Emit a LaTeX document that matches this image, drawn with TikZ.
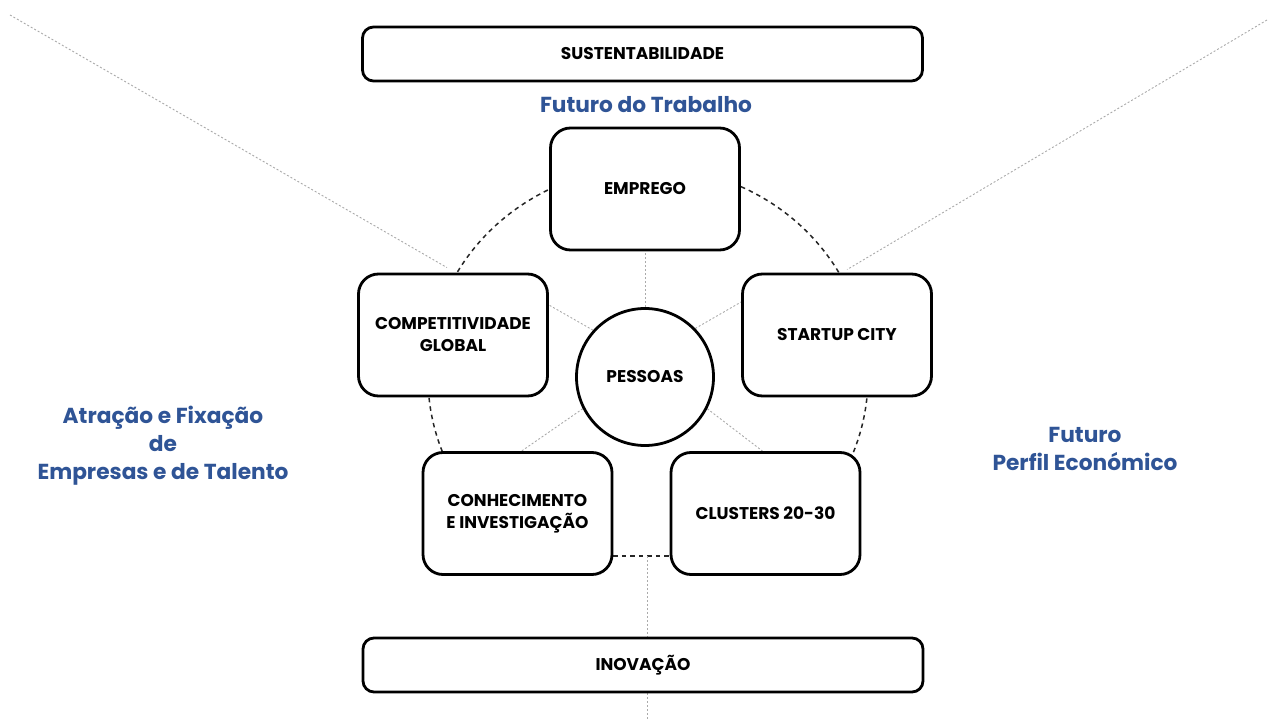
\documentclass[tikz,border=0pt]{standalone}
\usepackage{fontspec}
\setmainfont{Poppins}
\newfontfamily\labfont{Poppins}
\newfontfamily\blufont{Poppins}
\usetikzlibrary{calc,backgrounds}
\definecolor{titleblue}{RGB}{47,84,150}
\definecolor{spokegray}{RGB}{170,170,170}
\tikzset{
  bar/.style={draw=black, line width=2.8pt, rounded corners=11pt, fill=white, minimum height=54pt, minimum width=560pt, font=\labfont\bfseries\fontsize{17}{20}\selectfont},
  card/.style={draw=black, line width=2.8pt, rounded corners=20pt, fill=white, minimum width=189pt, minimum height=122pt, align=center, font=\labfont\bfseries\fontsize{17}{22}\selectfont},
  hub/.style={draw=black, line width=2.8pt, circle, fill=white, minimum size=137pt, font=\labfont\bfseries\fontsize{17}{20}\selectfont},
  ring/.style={draw=black!85, line width=1.5pt, dash pattern=on 4.5pt off 4pt},
  spoke/.style={draw=spokegray, line width=0.9pt, dash pattern=on 2pt off 2pt},
  heading/.style={text=titleblue, align=center, font=\blufont\bfseries\fontsize{21.7}{28}\selectfont}
}
\begin{document}
\begin{tikzpicture}[x=1pt,y=-1pt]
\useasboundingbox (0,0) rectangle (1268,719);
% nodes
\node[bar] (sust) at (642.5,54) {SUSTENTABILIDADE};
\node[bar] (inov) at (643,665) {INOVAÇÃO};
\node[heading] (ftrab) at (646,105) {Futuro do Trabalho};
\node[heading] (atrac) at (163,446) {Atração e Fixação\\de\\Empresas e de Talento};
\node[heading] (fperf) at (1085,449) {Futuro\\Perfil Económico};
\node[card] (empr) at (645,189) {EMPREGO};
\node[card] (comp) at (453,335) {COMPETITIVIDADE\\GLOBAL};
\node[card] (start) at (837,335) {STARTUP CITY};
\node[card] (conh) at (517.5,513.5) {CONHECIMENTO\\E INVESTIGAÇÃO};
\node[card] (clus) at (765.5,513.5) {CLUSTERS 20-30};
\node[hub] (pess) at (645,377) {PESSOAS};
\coordinate (tl) at (10,15);
\coordinate (tr) at (1267,20);
\coordinate (bot) at (647,719);
\begin{pgfonlayer}{background}
  % dashed ring
  \draw[ring] (648,377) ++(150:220 and 210) arc[start angle=150,end angle=390,x radius=220,y radius=210];
  \draw[ring] ([yshift=20pt]conh.south east) -- ([yshift=20pt]clus.south west);
  \coordinate (bm) at ([yshift=20pt]conh.south east);
  % spokes
  \draw[spoke] (pess.north) -- (empr.south);
  \draw[spoke] (pess.138) -- ([yshift=30pt]comp.east);
  \draw[spoke] (pess.44) -- ([yshift=33pt]start.west);
  \draw[spoke] (pess.207) -- ([xshift=4pt]conh.north);
  \draw[spoke] (pess.-27) -- ([xshift=-3pt]clus.north);
  % long guide lines
  \draw[spoke] (tl) -- ([xshift=-6pt,yshift=5pt]comp.north);
  \draw[spoke] (tr) -- ([xshift=10pt,yshift=3pt]start.north);
  \draw[spoke] (bot |- bm) -- (bot |- inov.north);
  \draw[spoke] (bot |- inov.south) -- (bot);
\end{pgfonlayer}
\end{tikzpicture}
\end{document}
